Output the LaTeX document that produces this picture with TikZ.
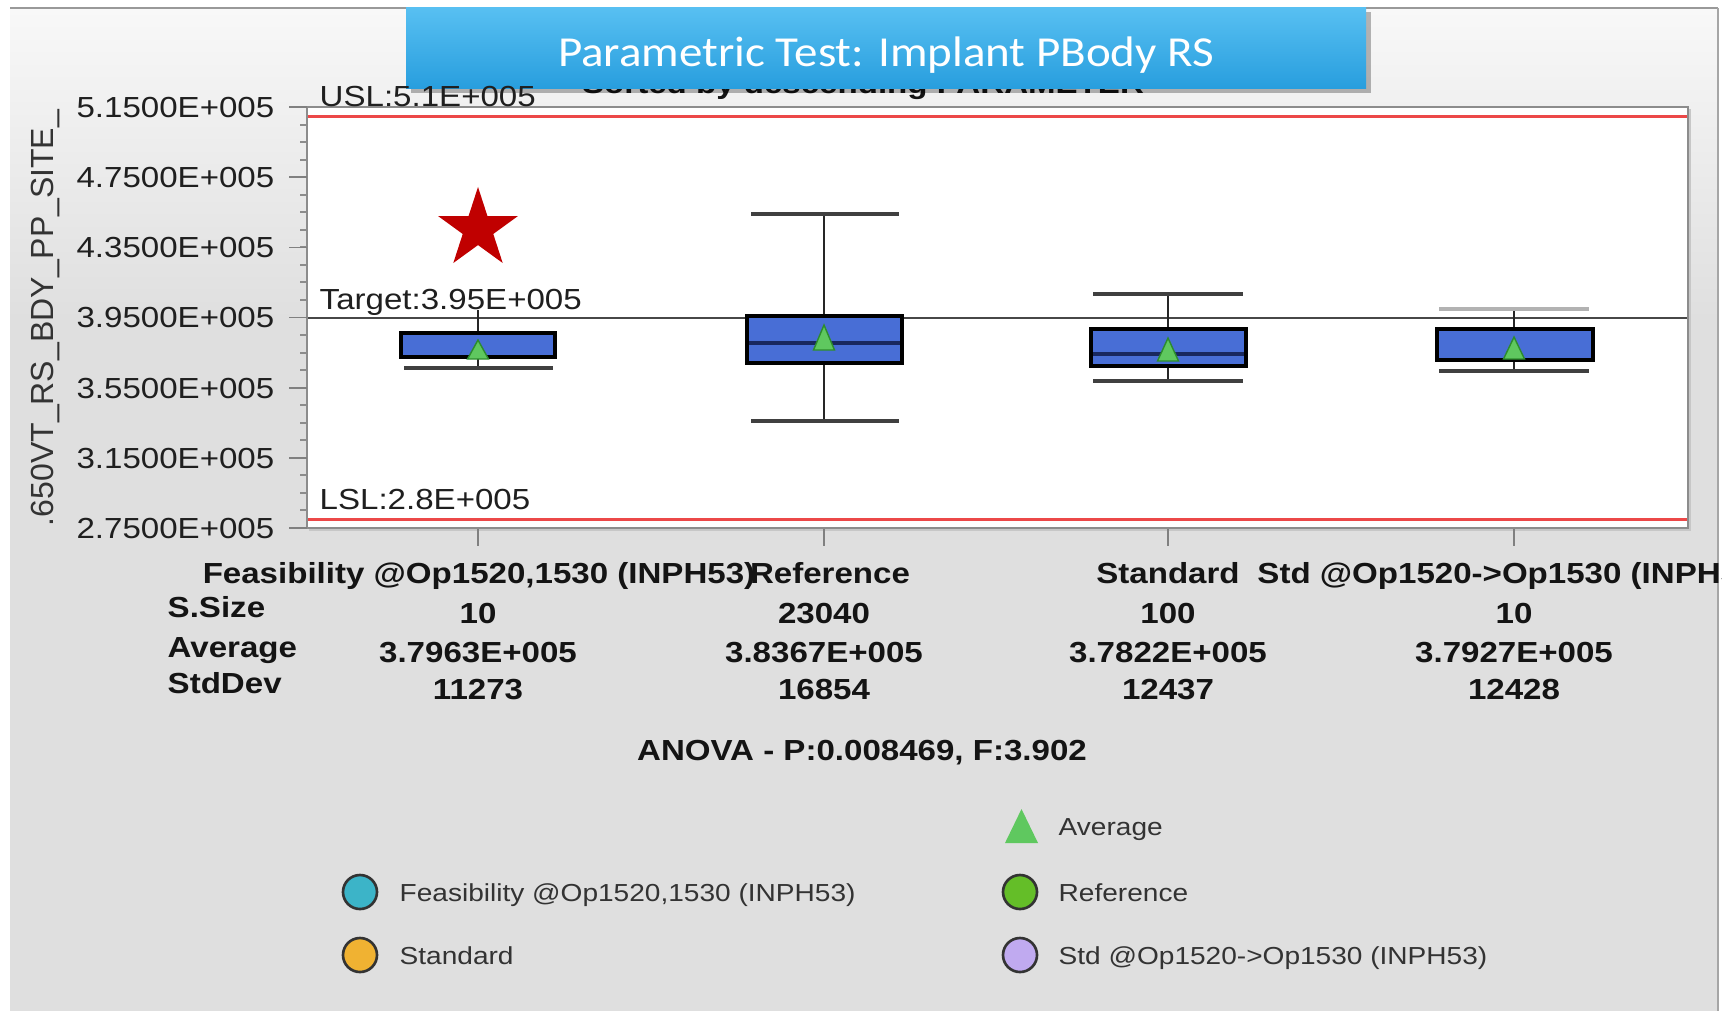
\documentclass[tikz,border=0pt]{standalone}
\usepackage{fontspec}
\setmainfont{Liberation Sans}
\newfontfamily\axfont{Liberation Sans}[FakeStretch=1.14]
\newfontfamily\rotfont{Liberation Sans}
\newfontfamily\titlefont{Carlito}[FakeStretch=1.1]
\usetikzlibrary{shapes.geometric}
\definecolor{bggray}{RGB}{223,223,223}
\definecolor{bgtop}{RGB}{248,248,248}
\definecolor{boxblue}{RGB}{72,110,214}
\definecolor{medblue}{RGB}{25,40,95}
\definecolor{meangreen}{RGB}{95,200,95}
\definecolor{meanedge}{RGB}{45,140,45}
\definecolor{speclred}{RGB}{236,72,72}
\definecolor{starred}{RGB}{192,0,0}
\definecolor{titletop}{RGB}{88,192,242}
\definecolor{titlebot}{RGB}{40,158,222}
\definecolor{legteal}{RGB}{60,180,200}
\definecolor{leggreen}{RGB}{100,190,40}
\definecolor{legorange}{RGB}{240,178,50}
\definecolor{leglav}{RGB}{192,170,240}
\tikzset{
 axlab/.style={inner sep=0pt, text=black!88, font=\axfont\fontsize{8.25}{10}\selectfont},
 boldlab/.style={inner sep=0pt, text=black!92, font=\axfont\bfseries\fontsize{8.25}{10}\selectfont},
 leglab/.style={inner sep=0pt, text=black!80, font=\axfont\fontsize{7}{9}\selectfont},
 boxbody/.style={fill=boxblue, draw=black, line width=1.4pt},
 medline/.style={draw=medblue, line width=0.9pt},
 whisk/.style={draw=black!85, line width=0.6pt},
 capline/.style={draw=black!75, line width=1.05pt},
 meantri/.style={fill=meangreen, draw=meanedge, line width=0.4pt},
 legdot/.style={circle, draw=black!80, line width=0.75pt, minimum size=0.34cm, inner sep=0pt},
 majtick/.style={draw=black!50, line width=0.45pt},
 mintick/.style={draw=black!45, line width=0.55pt},
}
\begin{document}
\begin{tikzpicture}[x=0.01cm, y=-0.01cm]
\useasboundingbox (0,0) rectangle (1722,1011);
\clip (0,0) rectangle (1722,1011);
% window background
\fill[white] (0,0) rectangle (1722,1011);
\fill[bggray] (10,8) rectangle (1718,1011);
\shade[top color=bgtop, bottom color=bggray] (10,8) rectangle (1718,320);
\draw[black!40, line width=0.8pt] (10,8) -- (1718,8);
\draw[black!35, line width=0.8pt] (1718,8) -- (1718,1011);
% hidden subtitle (behind title box)
\node[boldlab, anchor=base] (sorted) at (863,93) {Sorted by descending PARAMETER};
% title box
\fill[black, opacity=0.28] (411,12) rectangle (1371,93);
\shade[top color=titletop, bottom color=titlebot] (406,7) rectangle (1366,88);
\node[inner sep=0pt, anchor=base, text=white, font=\titlefont\fontsize{12.15}{14}\selectfont] (title) at (886,66) {Parametric Test: Implant PBody RS};
% plot frame
\fill[black!22] (309,109) rectangle (1691,531);
\filldraw[fill=white, draw=black!45, line width=0.45pt] (307,107) rectangle (1688,528);
% y ticks
\foreach \i in {1,...,23} {
  \draw[mintick] (300,{107+\i*17.54}) -- (306,{107+\i*17.54});
}
\foreach \yy in {107,177.2,247.4,317.5,387.7,457.8,528} {
  \draw[majtick] (289,\yy) -- (307,\yy);
}
\node[axlab, anchor=base east] (yl1) at (275,117.4) {5.1500E+005};
\node[axlab, anchor=base east] (yl2) at (275,187.6) {4.7500E+005};
\node[axlab, anchor=base east] (yl3) at (275,257.8) {4.3500E+005};
\node[axlab, anchor=base east] (yl4) at (275,327.9) {3.9500E+005};
\node[axlab, anchor=base east] (yl5) at (275,398.1) {3.5500E+005};
\node[axlab, anchor=base east] (yl6) at (275,468.2) {3.1500E+005};
\node[axlab, anchor=base east] (yl7) at (275,538.4) {2.7500E+005};
\node[rotate=90, inner sep=0pt, text=black!80, font=\rotfont\fontsize{9.1}{11}\selectfont] (ytitle) at (46,318) {.650VT\_RS\_BDY\_PP\_SITE\_};
% x ticks
\foreach \xx in {478,824,1168,1514} {
  \draw[majtick] (\xx,529) -- (\xx,546);
}
% spec lines
\draw[speclred, line width=0.85pt] (308,116) -- (1687,116);
\draw[speclred, line width=0.85pt] (308,519) -- (1687,519);
\draw[black!72, line width=0.7pt] (308,318) -- (1687,318);
\node[axlab, anchor=base west] (usl) at (319,106) {USL:5.1E+005};
\node[axlab, anchor=base west] (tgt) at (319,309) {Target:3.95E+005};
\node[axlab, anchor=base west] (lsl) at (319,509) {LSL:2.8E+005};
% star
\node[star, star points=5, star point ratio=2.618, fill=starred, minimum size=0.84cm, inner sep=0pt] (mark) at (478,229) {};
% group 1: Feasibility
\draw[whisk] (478,310) -- (478,368);
\draw[capline] (404,368) -- (553,368);
\filldraw[boxbody] (401,333) rectangle (555,357);
\filldraw[meantri] (467.5,359) -- (488.5,359) -- (478,340) -- cycle;
% group 2: Reference
\draw[whisk] (824,214) -- (824,421);
\draw[capline] (751,214) -- (899,214);
\draw[capline] (751,421) -- (899,421);
\filldraw[boxbody] (747,316) rectangle (902,363);
\draw[medline] (749,343) -- (900,343);
\filldraw[meantri] (813.5,350) -- (834.5,350) -- (824,325) -- cycle;
% group 3: Standard
\draw[whisk] (1168,294) -- (1168,381);
\draw[capline] (1093,294) -- (1243,294);
\draw[capline] (1093,381) -- (1243,381);
\filldraw[boxbody] (1091,329) rectangle (1246,366);
\draw[medline] (1093,354) -- (1244,354);
\filldraw[meantri] (1157.5,361) -- (1178.5,361) -- (1168,338) -- cycle;
% group 4: Std @Op1520->Op1530
\draw[whisk] (1514,311) -- (1514,371);
\draw[draw=black!30, line width=1pt] (1439,309) -- (1589,309);
\draw[capline] (1439,371) -- (1589,371);
\filldraw[boxbody] (1437,329) rectangle (1593,360);
\filldraw[meantri] (1503.5,359) -- (1524.5,359) -- (1514,337) -- cycle;
% category labels
\node[boldlab, anchor=base] (c1) at (479,583) {Feasibility @Op1520,1530 (INPH53)};
\node[boldlab, anchor=base] (c2) at (830,583) {Reference};
\node[boldlab, anchor=base] (c3) at (1168,583) {Standard};
\node[boldlab, anchor=base] (c4) at (1513,583) {Std @Op1520->Op1530 (INPH53)};
% stats rows
\node[boldlab, anchor=base west] (rs) at (167,617) {S.Size};
\node[boldlab, anchor=base west] (ra) at (167,657) {Average};
\node[boldlab, anchor=base west] (rd) at (167,693) {StdDev};
\node[boldlab, anchor=base] (s1) at (478,623) {10};
\node[boldlab, anchor=base] (s2) at (824,623) {23040};
\node[boldlab, anchor=base] (s3) at (1168,623) {100};
\node[boldlab, anchor=base] (s4) at (1514,623) {10};
\node[boldlab, anchor=base] (a1) at (478,662) {3.7963E+005};
\node[boldlab, anchor=base] (a2) at (824,662) {3.8367E+005};
\node[boldlab, anchor=base] (a3) at (1168,662) {3.7822E+005};
\node[boldlab, anchor=base] (a4) at (1514,662) {3.7927E+005};
\node[boldlab, anchor=base] (d1) at (478,699) {11273};
\node[boldlab, anchor=base] (d2) at (824,699) {16854};
\node[boldlab, anchor=base] (d3) at (1168,699) {12437};
\node[boldlab, anchor=base] (d4) at (1514,699) {12428};
\node[boldlab, anchor=base] (anova) at (862,760) {ANOVA - P:0.008469, F:3.902};
% legend
\fill[meangreen] (1005,843) -- (1038,843) -- (1021.5,809) -- cycle;
\node[leglab, anchor=base west] (lavg) at (1058,835) {Average};
\node[legdot, fill=legteal] (dot1) at (360,892) {};
\node[leglab, anchor=base west] (l1) at (399,901) {Feasibility @Op1520,1530 (INPH53)};
\node[legdot, fill=leggreen] (dot2) at (1020,892) {};
\node[leglab, anchor=base west] (l2) at (1058,901) {Reference};
\node[legdot, fill=legorange] (dot3) at (360,955) {};
\node[leglab, anchor=base west] (l3) at (399,964) {Standard};
\node[legdot, fill=leglav] (dot4) at (1020,955) {};
\node[leglab, anchor=base west] (l4) at (1058,964) {Std @Op1520->Op1530 (INPH53)};
\end{tikzpicture}
\end{document}
